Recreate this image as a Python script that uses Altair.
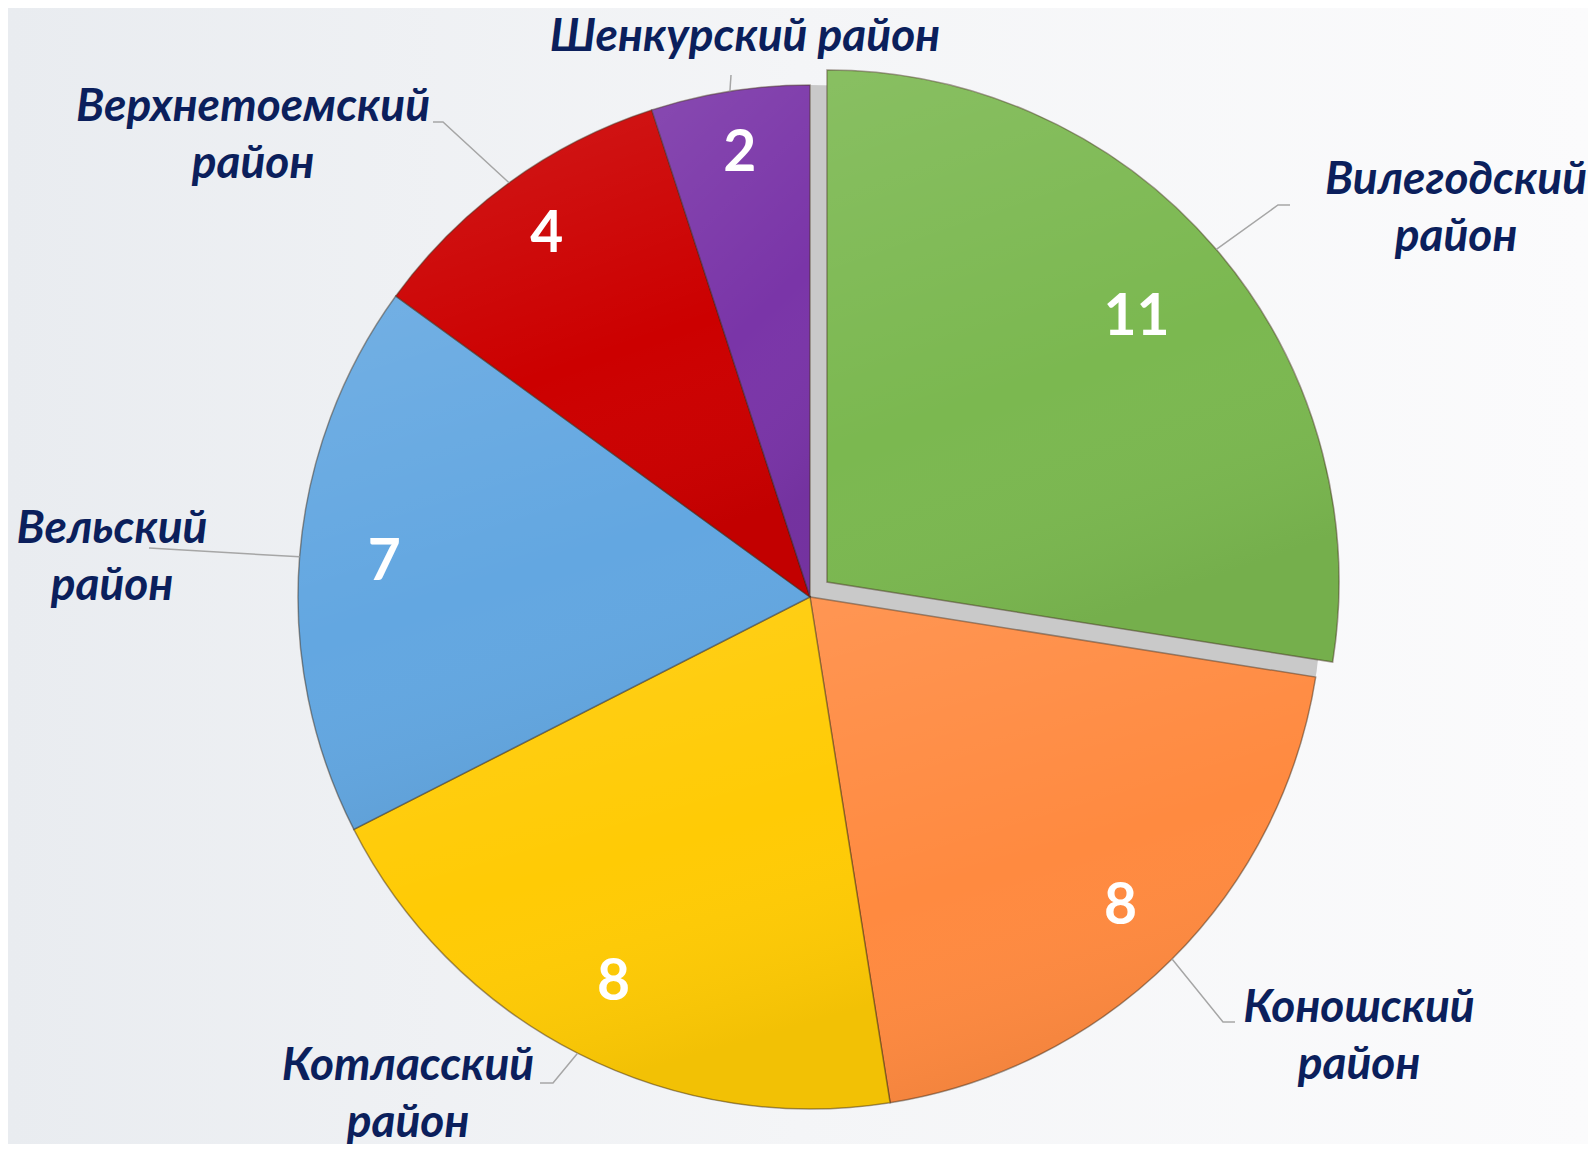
import math
import altair as alt
import pandas as pd

# ---- data ----
categories = ["Вилегодский район", "Коношский район", "Котласский район",
              "Вельский район", "Верхнетоемский район", "Шенкурский район"]
values = [11, 8, 8, 7, 4, 2]
colors = ["#7BB850", "#FF8A40", "#FFCB05", "#63A7E1", "#CC0000", "#7A35A8"]

# ---- layout (pixels, plot coords) ----
W, H = 1580, 1136
CX, CY = 802, 589
R = 512
EXPLODE = {"Вилегодский район": (17, -15)}
VALUE_R = [407, 439, 433, 427, 448, 449]
# centre of the first text line of each label, relative to the pie centre
LABEL_POS = [(646, -417), (549, 411), (-402, 469), (-698, -68), (-557, -490), (-65, -560)]
LEADER = [[(468, -392), (480, -392)], [(413, 425), (425, 425)],
          [(-257, 486), (-270, 486)], [(-661, -49)],
          [(-367, -475), (-377, -475)], [(-79, -522)]]
SINGLE_LINE = {"Шенкурский район"}

total = sum(values)
rows = []
lead_rows = []
acc = 0
for i, (cat, v) in enumerate(zip(categories, values)):
    s, e = acc, acc + v
    acc = e
    mid = (s + e) / 2
    dx, dy = EXPLODE.get(cat, (0, 0))
    cx, cy = CX + dx, CY + dy
    lab = cat if cat in SINGLE_LINE else cat.replace(" ", "\n")
    rows.append(dict(cat=cat, value=v, start=s, end=e, mid=mid, cx=cx, cy=cy,
                     vr=VALUE_R[i], lx=CX + LABEL_POS[i][0], ly=CY + LABEL_POS[i][1],
                     label=lab))
    a = mid / total * 2 * math.pi
    pts = [(cx + R * math.sin(a), cy - R * math.cos(a))] + \
          [(CX + px, CY + py) for px, py in LEADER[i]]
    for j, (px, py) in enumerate(pts):
        lead_rows.append(dict(cat=cat, i=j, px=px, py=py))

df = pd.DataFrame(rows)
lead = pd.DataFrame(lead_rows)

theta_scale = alt.Scale(domain=[0, total], range=[0, 2 * math.pi])

bg = alt.Chart(pd.DataFrame({"a": [0]})).mark_rect(
    fill=alt.Gradient(gradient="linear", x1=0, y1=0, x2=1, y2=0,
                      stops=[alt.GradientStop(offset=0, color="#E9ECF0"),
                             alt.GradientStop(offset=0.5, color="#F4F5F7"),
                             alt.GradientStop(offset=1, color="#FBFBFC")])
).encode(x=alt.value(0), x2=alt.value(W), y=alt.value(0), y2=alt.value(H))

shadow = alt.Chart(pd.DataFrame({"a": [0]})).mark_arc(
    radius=R, theta=0, theta2=2 * math.pi, fill="#C9C9C9"
).encode(x=alt.value(CX), y=alt.value(CY))

base = alt.Chart(df).encode(
    theta=alt.Theta("start:Q", scale=theta_scale),
    theta2="end:Q",
    x=alt.X("cx:Q", scale=None),
    y=alt.Y("cy:Q", scale=None),
)

slices = base.mark_arc(radius=R, stroke="rgba(60,40,20,0.45)", strokeWidth=1.5).encode(
    color=alt.Color("cat:N", scale=alt.Scale(domain=categories, range=colors), legend=None)
)

shade = base.mark_arc(
    radius=R,
    fill=alt.Gradient(gradient="linear", x1=0, y1=0, x2=0.3, y2=1,
                      stops=[alt.GradientStop(offset=0, color="rgba(255,255,255,0.10)"),
                             alt.GradientStop(offset=0.6, color="rgba(255,255,255,0)"),
                             alt.GradientStop(offset=1, color="rgba(0,0,0,0.05)")])
)

values_text = alt.Chart(df).mark_text(
    font="Lato", fontSize=57, fontWeight="bold", color="white",
    align="center", baseline="middle"
).encode(
    x=alt.X("cx:Q", scale=None),
    y=alt.Y("cy:Q", scale=None),
    theta=alt.Theta("mid:Q", scale=theta_scale),
    radius=alt.Radius("vr:Q", scale=None),
    text="value:Q",
)

leaders = alt.Chart(lead).mark_line(stroke="#A6A6A6", strokeWidth=1.5).encode(
    x=alt.X("px:Q", scale=None),
    y=alt.Y("py:Q", scale=None),
    detail="cat:N",
    order="i:Q",
)

labels = alt.Chart(df).mark_text(
    font="Lato", fontSize=46, fontStyle="italic", fontWeight="bold",
    color="#0B1F5C", lineBreak="\n", lineHeight=57,
    align="center", baseline="middle"
).encode(
    x=alt.X("lx:Q", scale=None),
    y=alt.Y("ly:Q", scale=None),
    text="label:N",
)

chart = alt.layer(bg, shadow, slices, shade, leaders, values_text, labels).properties(
    width=W, height=H, autosize=alt.AutoSizeParams(type="none"), padding=0,
    background="#F3F4F6"
).configure_view(strokeWidth=0)

chart.save("out.html", embed_options={"renderer": "svg", "actions": False})
